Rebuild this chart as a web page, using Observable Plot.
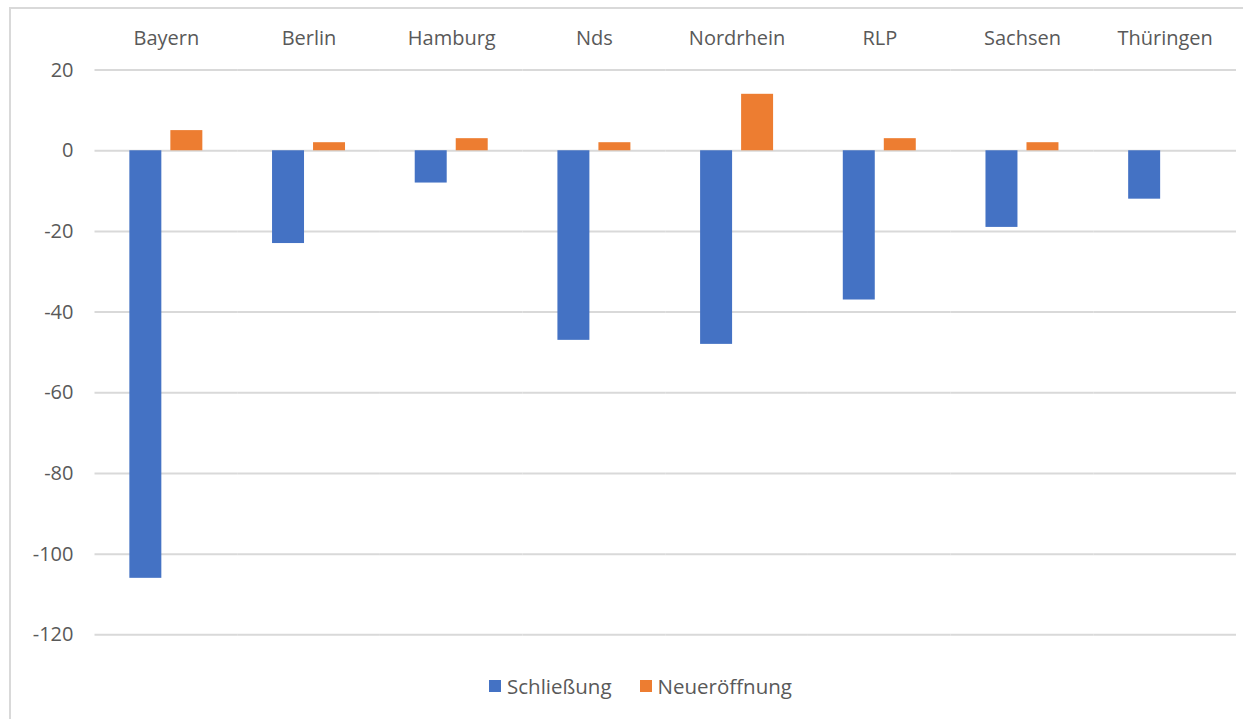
<!DOCTYPE html>
<html>
<head>
<meta charset="utf-8">
<script src="https://cdn.jsdelivr.net/npm/d3@7"></script>
<script src="https://cdn.jsdelivr.net/npm/@observablehq/plot@0.6"></script>
<style>
  body { margin: 0; background: #fff; }
  #wrap { position: relative; width: 1243px; height: 719px; overflow: hidden; background: #fff; font-family: "Open Sans", sans-serif; }
  #frame { position: absolute; left: 9px; top: 7px; width: 1400px; height: 900px; border: 2px solid #d9d9d9; box-sizing: border-box; }
  #chart { position: absolute; left: 0; top: 0; }
  #legend { position: absolute; top: 672px; left: 489px; display: flex; align-items: center; font-size: 20.5px; color: #595959; white-space: nowrap; }
  .sw { display: inline-block; width: 12px; height: 12px; margin-right: 6px; }
  .item { display: flex; align-items: center; margin-right: 28px; }
</style>
</head>
<body>
<div id="wrap">
  <div id="frame"></div>
  <div id="chart"></div>
  <div id="legend"></div>
</div>
<script>
const states = ["Bayern", "Berlin", "Hamburg", "Nds", "Nordrhein", "RLP", "Sachsen", "Thüringen"];
const schliessung = [-106, -23, -8, -47, -48, -37, -19, -12];
const neueroeffnung = [5, 2, 3, 2, 14, 3, 2, 0];
const seriesNames = ["Schließung", "Neueröffnung"];
const seriesColors = ["#4472C4", "#ED7D31"];
const yTicks = [20, 0, -20, -40, -60, -80, -100, -120];

const data = [];
states.forEach((s, i) => {
  data.push({state: s, series: seriesNames[0], value: schliessung[i]});
  data.push({state: s, series: seriesNames[1], value: neueroeffnung[i]});
});

const chart = Plot.plot({
  width: 1243,
  height: 665,
  marginLeft: 94.5,
  marginRight: 7,
  marginTop: 69.6,
  marginBottom: 30.7,
  style: {fontFamily: "'Open Sans', sans-serif", fontSize: "20px", color: "#595959", background: "transparent"},
  fx: {domain: states, padding: 0, round: false, label: null},
  x: {domain: seriesNames, paddingInner: 0.22, paddingOuter: 0.85, round: false, axis: null},
  y: {domain: [-120, 20], label: null},
  color: {domain: seriesNames, range: seriesColors},
  marks: [
    Plot.gridY(yTicks, {stroke: "#d9d9d9", strokeOpacity: 1, strokeWidth: 2}),
    Plot.axisY(yTicks, {tickSize: 0, tickPadding: 21.5, label: null, fill: "#595959", fontSize: 20, tickFormat: d => String(d)}),
    Plot.axisFx({anchor: "top", tickSize: 0, tickPadding: 25, label: null, fill: "#595959", fontSize: 20}),
    Plot.barY(data, {fx: "state", x: "series", y: "value", fill: "series"})
  ]
});
document.getElementById("chart").appendChild(chart);

const legend = document.getElementById("legend");
seriesNames.forEach((n, i) => {
  const item = document.createElement("span");
  item.className = "item";
  const sw = document.createElement("span");
  sw.className = "sw";
  sw.style.background = seriesColors[i];
  item.appendChild(sw);
  item.appendChild(document.createTextNode(n));
  legend.appendChild(item);
});
</script>
</body>
</html>
